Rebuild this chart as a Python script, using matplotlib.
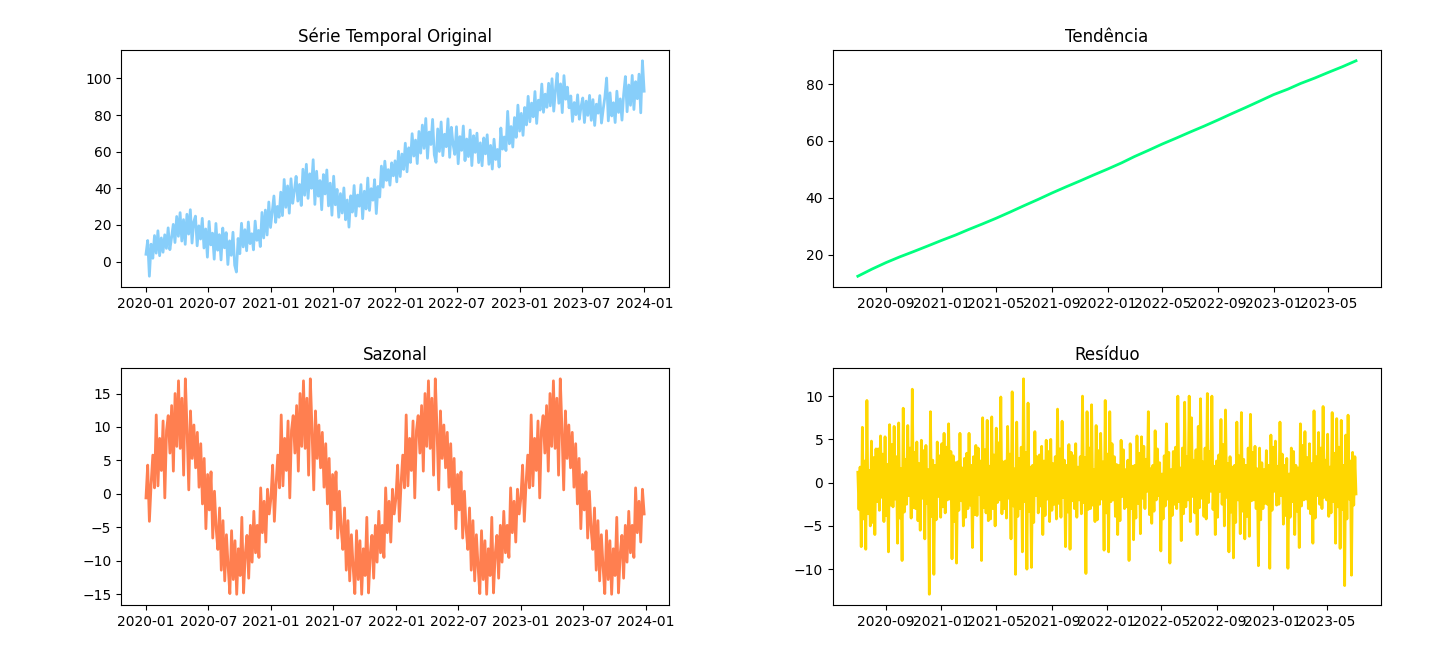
import numpy as np
import pandas as pd
import matplotlib
matplotlib.use("Agg")
import matplotlib.pyplot as plt

# original series, one reading every 5 days from 2020-01-01
original = [
    4.0, 11.5, -8.0,
    9.5, 1.8, 14.2, 4.6, 16.8, 3.2,
    12.9, 5.1, 14.6, 7.2,
    18.4, 6.5, 13.1, 20.3,
    10.4, 24.6, 13.8, 26.7, 11.2, 22.9,
    9.4, 25.8, 15.0, 28.3, 10.1, 21.7,
    24.8, 8.6, 19.5, 12.3, 23.6, 7.4,
    17.8, 2.4, 21.9, 9.1, 15.5,
    1.3, 20.8, 6.2, 14.7, 0.9, 18.3,
    7.5, 15.8, -1.6, 11.3, 3.4, 16.0, -2.0, -5.7,
    12.6, 4.3, 20.9, 8.0, 17.4, 5.9,
    21.6, 9.8, 15.2, 6.4, 22.1, 11.6,
    17.0, 8.2, 26.8, 12.9, 28.1, 14.5,
    32.5, 18.6, 27.3, 35.8, 21.4, 30.1, 24.2,
    37.9, 25.1, 44.8, 29.6, 41.3, 26.4,
    45.2, 31.8, 38.7, 46.5, 33.0, 42.1,
    30.6, 50.4, 36.2, 53.1, 34.5, 47.9, 40.0, 55.6, 31.2,
    49.3, 35.7, 44.2, 28.3, 47.5, 36.9, 50.0, 30.4,
    42.8, 25.3, 46.6, 31.0, 39.4, 24.2,
    37.1, 26.5, 40.2, 22.8, 33.6, 18.8, 35.9, 27.0,
    41.5, 24.9, 36.3, 30.2, 42.0, 23.4, 38.4, 28.7,
    45.6, 27.9, 39.8, 33.5, 44.7, 26.2, 41.0, 35.2,
    52.1, 40.6, 54.8, 44.3, 50.2, 41.7, 53.9, 46.8, 55.0, 43.5,
    60.2, 46.4, 58.7, 50.3, 64.6, 49.0, 62.1,
    54.1, 69.8, 57.6, 66.3, 53.5, 71.0,
    59.2, 74.5, 61.8, 78.1, 56.4, 70.7, 63.9, 77.6, 58.3,
    54.2, 72.4, 60.1, 76.2, 57.8, 69.5, 62.7, 77.9, 56.9, 73.3, 64.0,
    58.5, 73.6, 53.4, 68.2, 60.7, 74.0, 55.1, 66.9, 57.3, 71.8,
    52.4, 68.7, 59.6, 70.1, 54.0, 64.8, 52.3, 67.5, 58.8,
    69.2, 53.1, 63.4, 50.5, 66.8, 55.7, 61.2, 51.6,
    72.9, 61.4, 68.0, 60.6, 82.0, 64.3, 73.7, 62.5,
    78.6, 67.8, 85.4, 71.2, 80.9, 68.9, 84.1, 74.6,
    90.2, 76.3, 86.5, 79.0, 92.8, 75.4, 88.1, 82.7,
    96.9, 81.5, 91.4, 84.2, 97.3,
    85.0, 99.8, 82.1, 93.6, 102.7, 86.4, 97.0, 81.3, 101.5, 88.6, 95.2, 83.9,
    90.4, 76.5, 86.8, 80.2, 91.0, 77.7, 84.5, 89.3, 75.9, 87.6, 79.8, 90.7,
    77.1, 88.4, 74.3, 85.9, 81.0, 90.6, 75.6, 83.2, 89.9, 100.2, 76.8,
    92.1, 79.5, 86.7, 75.9, 93.0, 81.4, 88.8, 77.2, 91.5, 101.0,
    81.8, 96.4, 85.3, 101.6, 83.0, 98.2, 88.9, 102.3, 81.2, 109.6, 93.0,
]

# trend, monthly from 2020-07
trend = [
    12.4, 14.9, 17.2, 19.2, 21.1, 23.0, 25.0, 26.9, 28.8, 30.8, 32.8, 35.0,
    37.2, 39.4, 41.7, 43.8, 45.9, 48.0, 50.1, 52.3, 54.5, 56.7, 58.9, 61.0,
    63.1, 65.2, 67.4, 69.6, 71.8, 74.0, 76.3, 78.2, 80.2, 82.1, 84.1, 86.1,
    88.2,
]

# one year of the seasonal component (5-day steps), repeats every year
seasonal_year = [
    -0.6, 4.3, -4.1, 1.5, 5.8, 0.9, 11.8, 1.2, 8.3, 3.5,
    10.9, -0.6, 9.5, 11.7, 6.1, 13.2, 3.4, 15.0, 7.1, 16.9,
    6.8, 14.3, 2.8, 17.2, 9.6, 0.6, 12.4, 5.3, 10.3, 3.9,
    9.2, 1.0, 7.5, -1.5, 5.3, -5.2, 2.9, -2.4, 3.3, -6.6,
    0.4, -5.2, -8.3, -2.1, -11.4, -4.0, -13.0, -6.1, -10.9, -14.9,
    -5.5, -12.8, -7.0, -15.0, -8.2, -12.2, -3.5, -14.8, -9.0, -6.2,
    -12.6, -4.7, -10.2, -2.6, -8.8, -4.7, -9.5, 0.9, -5.8, -1.1,
    -7.2, 0.7, -3.0,
]
n_years = 4

# residual, 2.5-day steps from 2020-07-01
residual = [
    1.2, -3.1, 1.8, -7.4, 6.4, -4.2, 2.5, -7.7, 9.5, -3.6, 1.4, -5.0, 4.8, -4.6, 2.9, -6.0, 3.9, -2.2, 3.9, -3.2,
    5.4, -1.7, 3.3, -4.5, 5.3, -3.8, 2.1, -8.0, 6.7, -2.6, 4.4, -2.8, 6.5, -1.9, 3.0, -7.0, 6.9, -4.1, 1.6, -9.0,
    8.6, -3.4, 2.7, -2.5, 6.6, -1.5, 4.0, -4.1, 10.8, -2.9, 3.5, -3.0, 4.7, -4.4, 2.2, -5.5, 4.9, -1.8, 3.7, -6.5,
    4.3, -2.4, 1.5, -12.9, 8.2, -3.9, 2.6, -10.6, 2.0, -4.3, 4.7, -1.6, 3.1, -4.0, 4.5, -2.8, 5.7, -3.5, 4.1, -2.0,
    6.8, -1.9, 3.6, -8.8, 3.1, -4.5, 2.3, -9.3, 2.4, -3.2, 5.7, -2.1, 1.7, -5.0, 2.8, -4.0, 3.4, -3.0, 5.7, -2.6,
    2.0, -7.5, 3.0, -3.7, 4.3, -3.8, 4.0, -1.4, 2.5, -9.0, 7.5, -2.9, 3.8, -3.5, 7.2, -4.4, 1.9, -4.2, 7.6, -3.0,
    3.2, -5.0, 6.3, -2.3, 4.6, -2.0, 9.9, -3.6, 2.4, -3.0, 2.5, -4.1, 6.5, -1.8, 3.3, -6.5, 10.5, -2.7, 1.6, -10.6,
    7.0, -3.9, 2.8, -3.0, 4.1, -8.0, 12.0, -2.2, 3.5, -10.0, 9.2, -3.3, 1.8, -9.8, 2.0, -4.6, 5.9, -1.5, 3.0, -3.5,
    3.2, -2.7, 4.2, -6.0, 2.5, -3.8, 4.9, -1.9, 3.6, -4.5, 5.0, -3.2, 2.2, -2.5, 3.0, -4.2, 8.5, -2.4, 3.9, -4.0,
    7.1, -1.7, 2.6, -7.4, 2.0, -3.4, 4.4, -7.7, 3.5, -2.1, 3.1, -3.0, 4.5, -4.0, 1.8, -2.0, 3.0, -3.6, 10.0, -2.3,
    2.9, -10.5, 8.2, -3.1, 4.0, -3.0, 9.0, -2.6, 1.5, -4.5, 6.6, -4.3, 3.7, -2.5, 5.7, -1.9, 2.4, -7.8, 9.5, -3.5,
    3.3, -8.0, 8.2, -2.2, 4.5, -2.0, 3.0, -3.9, 2.1, -6.0, 2.0, -4.4, 4.9, -1.6, 3.8, -3.0, 1.5, -2.8, 2.6, -9.0,
    4.5, -3.0, 1.9, -6.6, 2.0, -4.1, 5.4, -2.4, 3.4, -5.9, 5.3, -1.8, 4.2, -3.0, 2.7, -1.0, 8.2, -3.7, 1.6, -4.7,
    2.0, -3.3, 6.0, -2.0, 3.9, -1.5, 2.3, -7.9, 1.0, -4.2, 3.1, -2.7, 6.8, -1.9, 3.5, -9.3, 1.5, -3.8, 3.6, -2.5,
    4.1, -3.0, 10.0, -2.2, 1.7, -6.7, 4.0, -3.6, 9.3, -2.8, 3.0, -2.0, 10.0, -4.5, 7.5, -1.6, 2.6, -3.5, 3.8, -6.0,
    6.5, -2.9, 9.7, -1.8, 2.4, -3.9, 4.0, -4.2, 10.3, -2.3, 3.6, -1.0, 10.0, -3.1, 1.9, -6.0, 2.5, -4.0, 3.2, -1.0,
    7.3, -2.5, 4.4, -5.0, 8.4, -1.7, 2.2, -8.0, 3.0, -3.4, 1.8, -8.7, 2.0, -4.6, 7.0, -2.0, 3.1, -5.9, 8.1, -3.3,
    2.7, -6.5, 2.0, -3.9, 4.0, -6.2, 7.9, -2.1, 3.5, -2.0, 4.2, -3.0, 1.6, -9.6, 4.0, -4.3, 2.3, -3.0, 1.5, -2.4,
    3.7, -2.5, 2.0, -9.9, 5.5, -3.2, 4.1, -1.0, 4.8, -2.6, 1.9, -2.5, 7.0, -1.5, 3.3, -4.8, 2.0, -3.8, 2.8, -9.9,
    1.0, -4.0, 4.0, -2.2, 3.6, -6.0, 2.0, -3.3, 1.7, -7.5, 6.8, -2.7, 4.3, -2.0, 5.9, -1.9, 2.9, -3.0, 4.5, -3.6,
    2.2, -7.0, 8.3, -4.1, 3.0, -1.5, 5.8, -2.5, 4.0, -3.0, 8.8, -1.7, 2.6, -2.0, 5.6, -3.9, 1.8, -3.5, 8.1, -2.2,
    3.4, -7.0, 7.4, -2.8, 4.1, -7.6, 7.2, -3.1, 2.0, -11.9, 5.5, -4.2, 7.8, -1.9, 2.5, -10.7, 3.5, -2.6, 3.0, -1.3,
]

seasonal = np.tile(seasonal_year, n_years)

dates_orig = pd.date_range("2020-01-01", periods=len(original), freq="5D")
dates_trend = pd.date_range("2020-07-01", periods=len(trend), freq="MS")
dates_seas = pd.date_range("2020-01-01", periods=len(seasonal), freq="5D")
dates_resid = pd.date_range("2020-07-01", periods=len(residual), freq="60h")

fig, axes = plt.subplots(2, 2, figsize=(14.31, 6.58), dpi=100)
plt.subplots_adjust(left=0.0846, right=0.965, bottom=0.0805, top=0.924,
                    wspace=0.299, hspace=0.342)

axes[0, 0].plot(dates_orig, original, color="lightskyblue", linewidth=2)
axes[0, 0].set_title("Série Temporal Original")

axes[0, 1].plot(dates_trend, trend, color="springgreen", linewidth=2)
axes[0, 1].set_title("Tendência")

axes[1, 0].plot(dates_seas, seasonal, color="coral", linewidth=2)
axes[1, 0].set_title("Sazonal")

axes[1, 1].plot(dates_resid, residual, color="gold", linewidth=2)
axes[1, 1].set_title("Resíduo")

plt.savefig("out.png", dpi=100)
plt.close()
